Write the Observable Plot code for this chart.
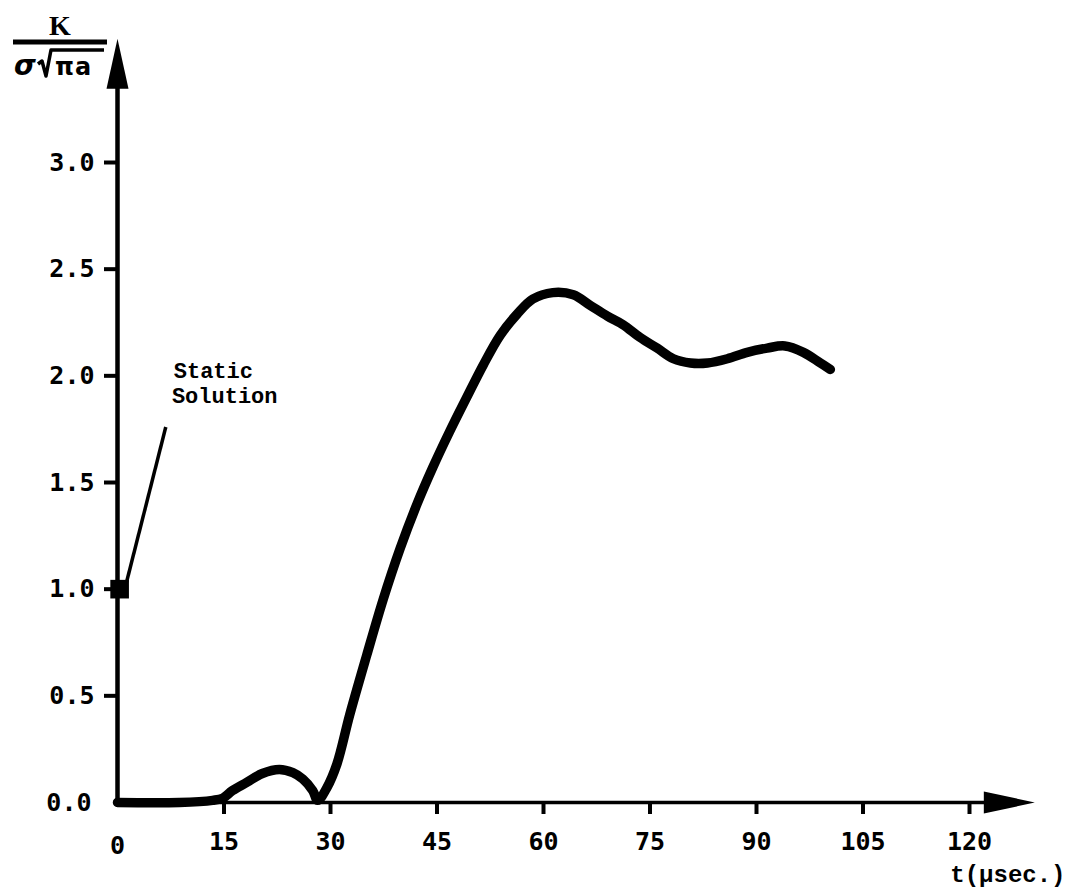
<!DOCTYPE html>
<html><head><meta charset="utf-8">
<script src="https://cdn.jsdelivr.net/npm/d3@7"></script>
<script src="https://cdn.jsdelivr.net/npm/@observablehq/plot@0.6"></script>
<style>body{margin:0;background:#fff}</style>
</head><body><div id="chart"></div>
<script>
// Curve: K/(σ√πa) vs t (μsec)
const tValues = [0, 8.7, 13.4, 14.8, 16.2, 18.2, 20.4, 22.8, 24.7, 26.1, 27.5, 28.2, 29.5, 30.9, 32.7, 35.1, 37.4, 39.8, 42.2, 44.4, 46.8, 49.2, 51.5, 53.9, 56.3, 58.5, 61.3, 64.2, 66.6, 69.0, 71.2, 73.6, 76.0, 78.3, 80.7, 83.1, 85.9, 88.7, 91.5, 94.0, 96.6, 99.0, 100.4];
const kValues = [0, 0, 0.01, 0.02, 0.056, 0.094, 0.136, 0.155, 0.14, 0.11, 0.056, 0.01, 0.07, 0.18, 0.41, 0.69, 0.95, 1.19, 1.40, 1.57, 1.74, 1.90, 2.05, 2.19, 2.29, 2.36, 2.39, 2.38, 2.33, 2.28, 2.24, 2.18, 2.13, 2.08, 2.06, 2.06, 2.08, 2.11, 2.13, 2.14, 2.11, 2.06, 2.03];

const xTicks = [15, 30, 45, 60, 75, 90, 105, 120];
const yTicks = [0.5, 1.0, 1.5, 2.0, 2.5, 3.0];

// Static solution marker and its leader/label
const staticT = [0.3];
const staticK = [1.0];
const leaderFrom = {t: 1.1, k: 1.01};
const leaderTo = {t: 6.8, k: 1.76};
const staticLabels = ["Static", "Solution"];
const staticLabelT = [13.5, 15.1];
const staticLabelK = [2.025, 1.905];

// Axis extents (arrow tips)
const xAxisEnd = 129.2;
const yAxisEnd = 3.58;

const curve = tValues.map((t, i) => ({t, k: kValues[i]}));
const staticPt = staticT.map((t, i) => ({t, k: staticK[i]}));
const labels = staticLabels.map((s, i) => ({s, t: staticLabelT[i], k: staticLabelK[i]}));

const upArrow = {draw(ctx) { ctx.moveTo(0, 0); ctx.lineTo(11, 50); ctx.lineTo(-11, 50); ctx.closePath(); }};
const rightArrow = {draw(ctx) { ctx.moveTo(0, 0); ctx.lineTo(-51, -11); ctx.lineTo(-51, 11); ctx.closePath(); }};

const tickFont = {fontSize: 25, fontWeight: "bold", fontFamily: "DejaVu Sans Mono", label: null};

const plot = Plot.plot({
  width: 1070,
  height: 896,
  marginLeft: 117,
  marginRight: 101,
  marginTop: 162,
  marginBottom: 94,
  x: {domain: [0, 120], label: null},
  y: {domain: [0, 3], label: null},
  style: {fontFamily: "DejaVu Sans Mono", color: "black", background: "white"},
  marks: [
    // axis lines
    Plot.ruleX([0], {y1: 0, y2: yAxisEnd - 0.2, strokeWidth: 4.5, stroke: "black"}),
    Plot.ruleY([0], {x1: 0, x2: xAxisEnd - 6.5, strokeWidth: 3.5, stroke: "black"}),
    Plot.dot([{t: 0, k: yAxisEnd}], {x: "t", y: "k", symbol: upArrow, r: 5, fill: "black", stroke: null}),
    Plot.dot([{t: xAxisEnd, k: 0}], {x: "t", y: "k", symbol: rightArrow, r: 5, fill: "black", stroke: null}),
    // axes
    Plot.axisX({ticks: xTicks, tickSize: 12, tickPadding: 18, strokeWidth: 4, tickFormat: d => String(d), ...tickFont}),
    Plot.axisX({ticks: [0], tickSize: 0, tickPadding: 34, tickFormat: d => String(d), ...tickFont}),
    Plot.axisY({ticks: yTicks, tickSize: 13, tickPadding: 10, strokeWidth: 4, tickFormat: d3.format(".1f"), ...tickFont}),
    Plot.axisY({ticks: [0], tickSize: 0, tickPadding: 26, tickFormat: d3.format(".1f"), ...tickFont}),
    // curve
    Plot.line(curve, {x: "t", y: "k", curve: "catmull-rom", stroke: "black", strokeWidth: 9.5, strokeLinecap: "round", strokeLinejoin: "round"}),
    // static solution
    Plot.link([0], {x1: () => leaderFrom.t, y1: () => leaderFrom.k, x2: () => leaderTo.t, y2: () => leaderTo.k, stroke: "black", strokeWidth: 3.5}),
    Plot.dot(staticPt, {x: "t", y: "k", symbol: "square", r: 10.5, fill: "black"}),
    Plot.text(labels, {x: "t", y: "k", text: "s", fontSize: 22, fontWeight: "bold", fontFamily: "Liberation Mono"}),
    // x-axis label
    Plot.text(["t(μsec.)"], {frameAnchor: "bottom-right", dx: 96, dy: 79, textAnchor: "end", fontSize: 24, fontWeight: "bold", fontFamily: "Liberation Mono"})
  ]
});

document.getElementById("chart").append(plot);

// y-axis label: K over σ√(πa)
const svg = d3.select(plot);
const g = svg.append("g").attr("fill", "black").attr("font-weight", "bold")
  .attr("text-anchor", "start");
g.append("text").attr("x", 60).attr("y", 35).attr("text-anchor", "middle")
  .attr("font-family", "Liberation Serif").attr("font-size", 28).text("K");
g.append("line").attr("x1", 13).attr("x2", 107).attr("y1", 42).attr("y2", 42)
  .attr("stroke", "black").attr("stroke-width", 5);
g.append("text").attr("x", 14).attr("y", 75).attr("font-family", "DejaVu Sans")
  .attr("font-style", "italic").attr("font-size", 28).text("σ");
g.append("path").attr("d", "M38,64 L42,61 L46,76 L51,50 L104,50")
  .attr("fill", "none").attr("stroke", "black").attr("stroke-width", 3.5)
  .attr("stroke-linejoin", "round");
g.append("text").attr("x", 55).attr("y", 75).attr("font-family", "DejaVu Sans")
  .attr("font-size", 24).attr("letter-spacing", 1).text("πa");
</script>
</body></html>
